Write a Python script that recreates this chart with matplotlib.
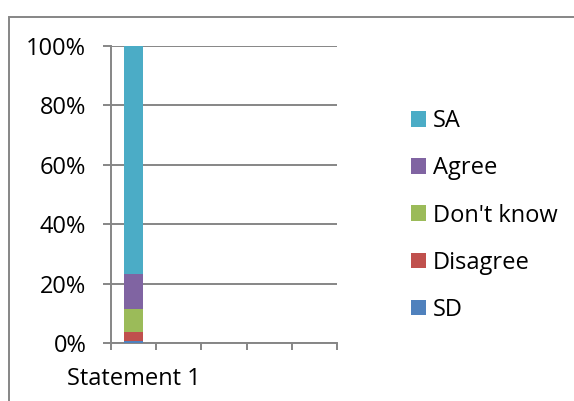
import matplotlib
matplotlib.use("Agg")
import matplotlib.pyplot as plt
from matplotlib.patches import Rectangle
from matplotlib.ticker import FuncFormatter

# data (percent of responses)
statements = ["Statement 1", "", "", "", ""]
sd = [0.8]
disagree = [3.0]
dont_know = [7.6]
agree = [12.0]
sa = [76.6]

labels = ["SD", "Disagree", "Don't know", "Agree", "SA"]
colors = ["#4F81BD", "#C0504D", "#9BBB59", "#8064A2", "#4BACC6"]

plt.rcParams['font.family'] = ['Open Sans', 'DejaVu Sans']
grid_col = "#868686"
fs = 17

fig = plt.figure(figsize=(5.74, 4.01), dpi=100)
ax = fig.add_axes([111 / 574, 58 / 401, 226 / 574, 297 / 401])

series = [sd, disagree, dont_know, agree, sa]
bottom = [0.0] * len(sd)
x = list(range(len(sd)))
handles = []
for vals, lab, col in zip(series, labels, colors):
    b = ax.bar(x, vals, width=0.41, bottom=bottom, color=col, label=lab, zorder=3)
    handles.append(b)
    bottom = [bo + v for bo, v in zip(bottom, vals)]

ax.set_xlim(-0.5, len(statements) - 0.5)
ax.set_ylim(0, 100)
ax.set_yticks(range(0, 101, 20))
ax.yaxis.set_major_formatter(FuncFormatter(lambda v, p: f"{int(v)}%"))
ax.yaxis.grid(True, color=grid_col, linewidth=1.4, zorder=0)
ax.tick_params(axis='y', length=5.8, width=1.4, color=grid_col, pad=12, labelsize=fs)

# category labels at centres, tick marks at category boundaries
ax.set_xticks(range(len(statements)))
ax.set_xticklabels(statements)
ax.set_xticks([i - 0.5 for i in range(len(statements) + 1)], minor=True)
ax.tick_params(axis='x', which='major', length=0, pad=17, labelsize=fs)
ax.tick_params(axis='x', which='minor', length=5, width=1.4, color=grid_col)

for s in ["top", "right"]:
    ax.spines[s].set_visible(False)
for s in ["left", "bottom"]:
    ax.spines[s].set_color(grid_col)
    ax.spines[s].set_linewidth(1.4)

leg = fig.legend(handles[::-1], labels[::-1], loc="upper left",
                 bbox_to_anchor=(390 / 574, 1 - 88 / 401), frameon=False,
                 fontsize=fs, handlelength=0.63, handleheight=0.63,
                 handletextpad=0.3, labelspacing=0.98)

# outer chart border
fig.patches.append(Rectangle((9 / 574, -0.05), 1.2, 1 - 17 / 401 + 0.05,
                             transform=fig.transFigure, fill=False,
                             edgecolor=grid_col, linewidth=1.4))

fig.savefig("out.png", dpi=100)
